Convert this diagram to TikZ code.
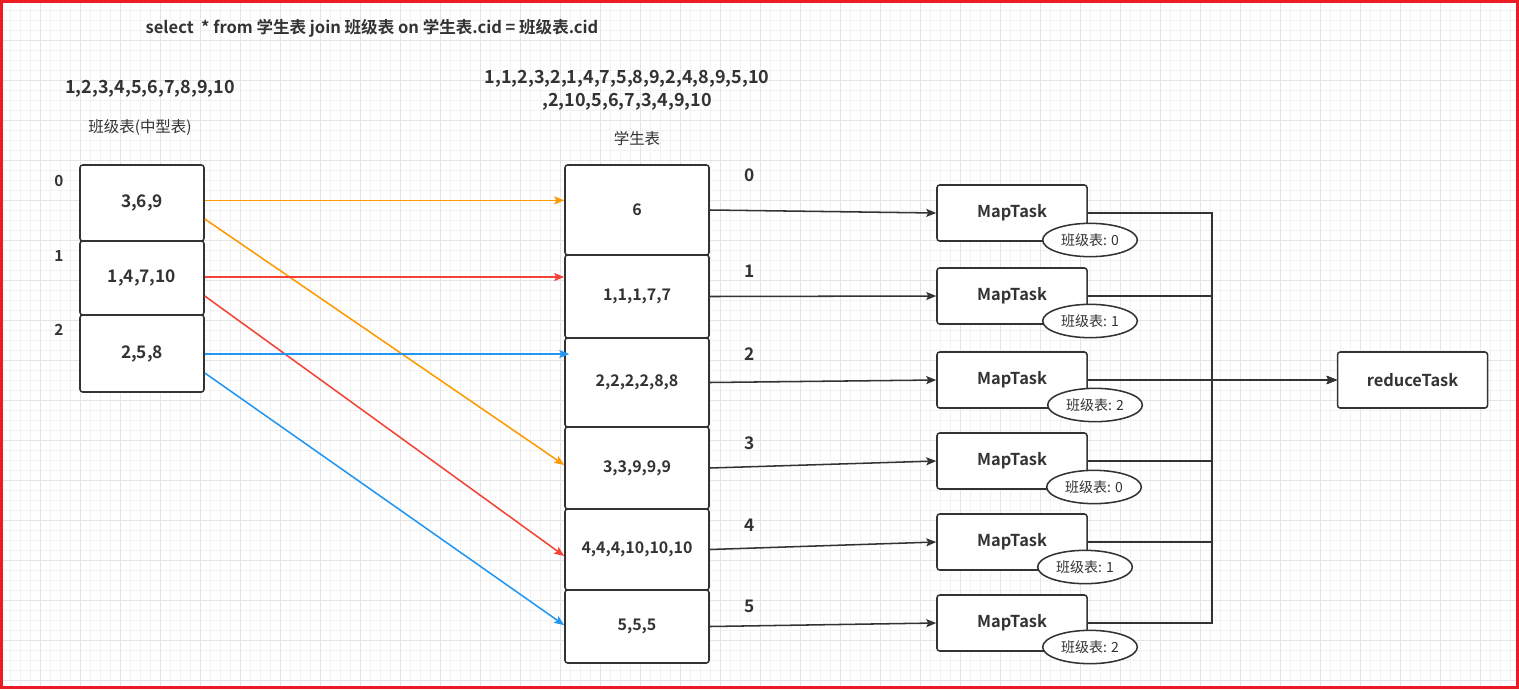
\documentclass[tikz,border=0pt]{standalone}
\usepackage{fontspec}
\setmainfont{Noto Sans CJK SC}[BoldFont={Noto Sans CJK SC Bold}]
\usetikzlibrary{arrows.meta,positioning,shapes.geometric}
\definecolor{ink}{HTML}{333333}
\definecolor{jorange}{HTML}{FF9900}
\definecolor{jred}{HTML}{F44336}
\definecolor{jblue}{HTML}{2196F3}
\definecolor{framered}{HTML}{ED1C24}
\definecolor{gridminor}{HTML}{F2F2F2}
\definecolor{gridmajor}{HTML}{E4E4E4}

\begin{document}
\begin{tikzpicture}[
  x=0.75pt, y=-0.75pt,
  font=\bfseries\fontsize{12}{14}\selectfont, text=ink,
  cell/.style={draw=ink, line width=1.15pt, rounded corners=2pt, fill=white,
               inner sep=0pt},
  lcell/.style={cell, minimum width=93pt, font=\bfseries\fontsize{13}{15}\selectfont},
  scell/.style={cell, minimum width=108pt},
  task/.style={cell, minimum width=112.5pt, minimum height=42pt,
               font=\bfseries\fontsize{12.3}{14}\selectfont},
  tag/.style={ellipse, draw=ink, line width=1.15pt, fill=white,
              minimum width=71pt, minimum height=25pt, inner sep=0pt,
              font=\fontsize{10.5}{12}\selectfont},
  big/.style={font=\bfseries\fontsize{13.5}{17.25}\selectfont, align=center},
  tname/.style={font=\fontsize{11.6}{13}\selectfont},
  idx/.style={font=\bfseries\fontsize{13}{15}\selectfont},
  lidx/.style={font=\bfseries\fontsize{11.5}{13}\selectfont},
  ar/.style={-{Stealth[length=7.5pt, width=6pt, inset=1.5pt]}, line width=1.15pt},
]
\useasboundingbox (0,0) rectangle (1519,689);
\fill[white] (0,0) rectangle (1519,689);
\draw[gridminor, line width=0.5pt] (0,689) grid[step=7.5pt] (1519,0);
\draw[gridmajor, line width=0.5pt] (0,689) grid[step=30pt] (1519,0);
\draw[framered, line width=2.25pt] (1.5,1.5) rectangle (1517.5,687.5);

% texts
\node[font=\bfseries\fontsize{12.4}{14}\selectfont] (sql) at (372,28)
     {select\ \ * from 学生表 join 班级表 on 学生表.cid = 班级表.cid};
\node[big] (clsids) at (150,89) {1,2,3,4,5,6,7,8,9,10};
\node[tname] (clsname) at (140,128) {班级表(中型表)};
\node[big] (stuids) at (627,90) {1,1,2,3,2,1,4,7,5,8,9,2,4,8,9,5,10\\,2,10,5,6,7,3,4,9,10};
\node[tname] (stuname) at (637,139) {学生表};

% class table
\node[lcell, minimum height=57pt]    (l0) at (142,203)   {3,6,9};
\node[lcell, minimum height=55.5pt]  (l1) at (142,278)   {1,4,7,10};
\node[lcell, minimum height=57.75pt] (l2) at (142,353.5) {2,5,8};
\foreach \n/\y in {0/181,1/256,2/330}
  \node[lidx] (p\n) at (59,\y) {\n};

% student table
\node[scell, minimum height=67.5pt]  (s0) at (637,210)   {6};
\node[scell, minimum height=62.25pt] (s1) at (637,296.5) {1,1,1,7,7};
\node[scell, minimum height=66.75pt] (s2) at (637,382.5) {2,2,2,2,8,8};
\node[scell, minimum height=61.5pt]  (s3) at (637,468)   {3,3,9,9,9};
\node[scell, minimum height=60.75pt] (s4) at (637,549.5) {4,4,4,10,10,10};
\node[scell, minimum height=54.75pt] (s5) at (637,626.5) {5,5,5};
\foreach \n/\y in {0/175,1/271,2/354,3/443,4/525,5/606}
  \node[idx] (k\n) at (750,\y) {\n};

% map tasks
\foreach \i/\y in {0/213,1/296,2/380,3/461,4/542,5/623}
  \node[task] (m\i) at (1012,\y) {MapTask};
\node[task] (r) at (1412.5,380) {reduceTask};
\coordinate (bus) at (1212,380);

% colored shuffle arrows
\draw[ar, jorange] ([yshift=2pt]l0.east) -- ([yshift=2pt]l0.east -| s0.west);
\draw[ar, jorange] ([yshift=-12pt]l0.east) -- ([yshift=2.25pt]s3.west);
\draw[ar, jred] ([yshift=0.75pt]l1.east) -- ([yshift=0.75pt]l1.east -| s1.west);
\draw[ar, jred] ([yshift=-13.5pt]l1.east) -- ([yshift=-4.9pt]s4.west);
\draw[ar, jblue] ([yshift=-0.4pt]l2.east) -- ([xshift=3.75pt,yshift=-0.4pt]s2.west |- l2.east);
\draw[ar, jblue] ([yshift=-14.6pt]l2.east) -- ([yshift=1pt]s5.west);

\foreach \i in {0,...,5}
  \draw[ar, ink] (s\i.east) -- (m\i.west);
\foreach \i in {0,...,5}
  \draw[ar, ink] (m\i.east) -| (bus) -- (r.west);

% tags
\foreach \i/\x/\y/\t in {0/1090/240/0, 1/1090/321/1, 2/1095/405/2,
                         3/1094/487/0, 4/1085/567/1, 5/1090/647/2}
  \node[tag] (t\i) at (\x,\y) {班级表: \t};
\end{tikzpicture}
\end{document}
